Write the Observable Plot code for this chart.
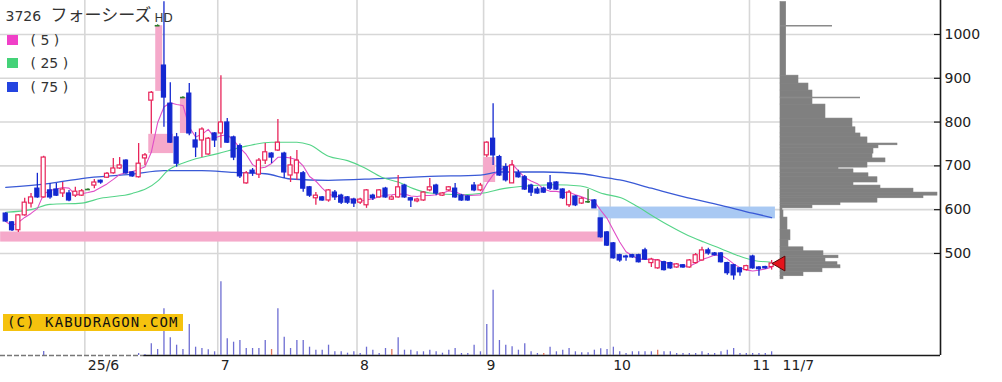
<!DOCTYPE html>
<html>
<head>
<meta charset="utf-8">
<script src="https://cdn.jsdelivr.net/npm/d3@7"></script>
<script src="https://cdn.jsdelivr.net/npm/@observablehq/plot@0.6"></script>
<style>
  html, body { margin: 0; padding: 0; background: #fff; }
  #wrap { position: relative; width: 1002px; height: 382px; overflow: hidden; }
  #wrap svg { position: absolute; left: 0; top: 0; }
  .sq { position: absolute; left: 7px; width: 11px; height: 10px; }
  #copy { position: absolute; left: 3px; top: 314px; width: 180px; height: 17px; background: #f5c20e;
          font-family: "DejaVu Sans Mono", monospace; font-size: 14px; letter-spacing: 1.1px; line-height: 17px;
          color: #111; padding-left: 4px; box-sizing: border-box; white-space: nowrap; }
</style>
</head>
<body>
<div id="wrap"></div>
<script>
// ---------- data ----------
const titleCode = "3726 ";
const titleName = "フォーシーズ";
const titleSuffix = "HD";
const maLabels = ["( 5 )", "( 25 )", "( 75 )"];

// daily candles, trading days 2025-05-14 … 2025-11-07 (index 0 … 121)
const opens = [
  591,571,553,587,614,648,628,644,646,637,
  637,632,632,646,655,666,673,683,694,712,
  685,674,717,849,1020,929,842,765,856,865,
  758,758,726,774,774,799,765,745,660,689,
  680,712,728,735,728,678,683,683,651,626,
  628,621,639,632,628,623,616,610,632,628,
  648,623,628,655,626,619,621,644,655,632,
  644,648,632,630,655,644,724,762,720,697,
  660,683,674,655,646,648,660,662,646,610,
  630,614,618,621,580,548,523,496,493,496,
  496,507,478,466,480,478,468,473,468,478,
  484,507,500,500,478,473,466,462,493,468,
  469,469];
const highs = [
  593,573,589,626,637,683,722,660,660,662,
  644,651,646,648,669,668,685,717,719,714,
  687,751,728,870,1022,1075,890,774,858,888,
  776,787,765,776,906,808,768,750,687,694,
  717,751,730,806,731,721,735,687,653,639,
  630,646,644,635,630,626,626,646,635,646,
  651,632,678,658,628,626,641,671,658,639,
  653,660,635,632,662,660,755,842,724,705,
  712,690,678,658,651,651,678,664,648,644,
  632,628,646,623,580,550,525,498,496,498,
  498,512,489,486,482,480,477,475,486,500,
  514,512,502,502,480,475,468,473,496,470,
  471,484];
const lows = [
  571,550,548,585,604,626,626,624,630,628,
  618,628,630,644,648,658,671,681,692,681,
  674,672,701,772,1020,788,751,697,856,769,
  719,719,724,742,740,751,712,671,658,676,
  671,703,705,733,671,662,667,640,628,610,
  619,617,621,612,612,605,612,603,621,626,
  626,621,626,626,605,616,619,641,632,630,
  641,626,619,619,641,641,719,701,676,663,
  660,672,644,630,635,637,644,644,623,605,
  607,612,614,605,535,516,487,480,482,489,
  478,484,468,464,460,464,466,466,466,476,
  482,496,494,478,450,439,448,460,464,448,
  464,462];
const closes = [
  573,553,587,616,628,628,719,628,632,646,
  621,641,642,646,662,662,682,694,701,683,
  676,705,724,867,1020,856,753,705,856,774,
  742,783,762,758,799,753,719,676,683,683,
  712,731,719,753,685,701,712,648,632,632,
  621,644,628,616,616,614,623,644,626,644,
  628,628,651,628,621,623,639,651,637,637,
  651,628,621,621,644,655,753,724,678,667,
  701,674,646,639,637,639,648,646,626,639,
  610,625,618,603,537,518,489,484,491,491,
  480,486,486,484,462,466,475,468,484,496,
  507,500,496,480,455,450,457,471,466,464,
  466,477];
const volumes = [
  0,0,0,0,0,0,40,0,0,0,
  0,0,0,0,0,0,0,0,0,0,
  0,20,10,117,60,467,177,103,60,310,
  83,70,57,37,737,167,133,150,70,70,
  70,150,60,467,183,70,150,150,83,53,
  53,103,37,37,23,37,20,83,53,20,
  70,60,177,53,53,37,37,53,37,23,
  53,70,20,20,103,37,310,653,150,103,
  87,53,117,37,20,20,83,37,53,70,
  37,27,27,53,67,60,83,37,20,37,
  37,37,37,53,37,37,20,20,20,20,
  37,20,20,37,53,70,20,20,20,20,
  20,37];
const volRedDays = [42, 61, 85, 103];

// moving averages 25 / 75 read at sample days
const ma25Day = [0,4,7,12,15,20,24,25.5,28.7,33.5,38,42,46,48,51,54,56.5,59.4,62,64.4,67,72,75.5,78.6,81.3,86.5,90.8,94.5,97.2,99.8,102.4,105,107.8,110.3,113,115.7,118.2,121];
const ma25Val = [594,600,612,615,626,637,665,688,710,728,745,754,754,748,722,712,697,674,663,648,638,634,638,648,653,657,654,636,627,607,584,562,541,526,511,495,484,480];
const ma75Day = [0,7,12,20,25,31,36,41,45,51,59,67,75,78,85,91,94,97,102,107,113,118,121];
const ma75Val = [651,660,671,681,689,689,685,682,670,667,671,676,679,686,686,682,675,668,649,630,610,592,582];

// price gaps ("windows"): from day, to day, low, high, direction
const gapFrom = [-0.8, 22.6, 23.7, 27.6, 75.5, 93.7];
const gapTo   = [94.4, 26.5, 24.8, 28.7, 77.4, 121.6];
const gapLo   = [526, 728, 870, 774, 662, 579];
const gapHi   = [549, 772, 1020, 856, 719, 606];
const gapDir  = ["up","up","up","up","up","down"];

// volume-by-price profile
const pfLo  = [906,888,872,856,840,808,788,774,765,751,747,740,728,717,708,696,692,683,674,662,655,648,639,632,626,616,610,603,598,582,553,530,514,505,495,489,480,473,466,457,448,441];
const pfHi  = [1074,906,888,872,856,840,808,788,774,765,751,747,740,728,717,708,696,692,683,674,662,655,648,639,632,626,616,610,603,598,582,553,530,514,505,495,489,480,473,466,457,448];
const pfVol = [5.7,18,28,32,32,45,72,75,80,87,117,98,93,92,105,87,58,73,88,97,73,100,133,157,143,97,60,32,2,3,7,10,8,23,43,58,45,57,60,42,23,3];
const pfSpikePrice = [1020, 856];
const pfSpikeVol   = [52, 80];

// axes
const yTicks = [500, 600, 700, 800, 900, 1000];
const monthStart = [13, 34, 56, 76, 96, 118];
const monthLabels = ["25/6", "7", "8", "9", "10", "11"];
const lastLabel = "11/7";

// ---------- build ----------
const N = closes.length;
const days = d3.range(N).map(i => ({i, o: opens[i], h: highs[i], l: lows[i], c: closes[i], v: volumes[i]}));
const gaps = gapFrom.map((f, k) => ({from: f, to: gapTo[k], lo: gapLo[k], hi: gapHi[k], dir: gapDir[k]}));
const profile = pfLo.map((lo, k) => ({lo, hi: pfHi[k], v: pfVol[k]}));
const spikes = pfSpikePrice.map((p, k) => ({p, v: pfSpikeVol[k]}));
const ma25 = ma25Day.map((d, k) => ({d, v: ma25Val[k]}));
const ma75 = ma75Day.map((d, k) => ({d, v: ma75Val[k]}));

const xDomain = [-0.823, 147.68];
const plotW = 940;
const pxPerIdx = plotW / (xDomain[1] - xDomain[0]);
const px = n => n / pxPerIdx;
const profileBase = 122.4;

const colUp = "#e8245a", colDown = "#1428d0", colDoji = "#2b7d2b";
const gridCol = "#d7d7d7";
const candleCol = d => d.c > d.o ? colUp : d.c < d.o ? colDown : colDoji;
const bodies = days.filter(d => d.c !== d.o);
const dojis = days.filter(d => d.c === d.o);
const font = '"DejaVu Sans", "Noto Sans CJK JP", sans-serif';
const jpFont = '"Noto Sans CJK JP", sans-serif';
const yMin = 267;
const legendDy = [40.5, 63.5, 87.5];

const main = Plot.plot({
  width: 1002, height: 382,
  marginLeft: 0, marginRight: 62, marginTop: 0, marginBottom: 27,
  x: {domain: xDomain, axis: null},
  y: {domain: [yMin, 1077.6], axis: null},
  color: {type: "identity"},
  style: {fontFamily: font, fontSize: "14px", background: "white", overflow: "visible"},
  marks: [
    Plot.ruleY(yTicks, {stroke: gridCol, strokeWidth: 1.6}),
    Plot.ruleX(monthStart, {x: d => d - 0.5, stroke: gridCol, strokeWidth: 1.6}),
    Plot.rect(gaps, {x1: "from", x2: "to", y1: "lo", y2: "hi", fill: d => d.dir === "up" ? "#f5a9ca" : "#a9c9f3"}),
    Plot.rect(profile, {x1: () => profileBase, x2: d => profileBase + px(d.v), y1: "lo", y2: "hi",
      fill: "#808080", stroke: "#808080", strokeWidth: 0.6}),
    Plot.ruleY(spikes, {y: "p", x1: () => profileBase, x2: d => profileBase + px(d.v), stroke: "#8a8a8a", strokeWidth: 1.4}),
    Plot.line(ma75, {x: "d", y: "v", stroke: "#3a5ad6", strokeWidth: 1.3, curve: "monotone-x"}),
    Plot.line(ma25, {x: "d", y: "v", stroke: "#55d488", strokeWidth: 1.1, curve: "monotone-x"}),
    Plot.lineY(days, Plot.windowY({k: 5, anchor: "end", reduce: "mean"}, {x: "i", y: "c", stroke: "#e04ec6", strokeWidth: 1.1})),
    Plot.ruleX(days, {x: "i", y1: "l", y2: "h", stroke: candleCol, strokeWidth: 1.3}),
    Plot.rect(bodies, {x1: d => d.i - 0.32, x2: d => d.i + 0.32, y1: "o", y2: "c",
      fill: d => d.c > d.o ? "white" : colDown, stroke: candleCol, strokeWidth: 1.2}),
    Plot.ruleY(dojis, {y: "c", x1: d => d.i - 0.38, x2: d => d.i + 0.38, stroke: colDoji, strokeWidth: 1.6}),
    // current price marker
    Plot.dot([closes[N - 1]], {x: () => N - 1, y: d => d, dx: 9, symbol: "triangle", rotate: -90, r: 5.5,
      fill: "#e4141c", stroke: "#5a0a0a", strokeWidth: 1}),
    // frame (bottom & right)
    Plot.ruleY([yMin], {x1: () => xDomain[0], x2: () => 21.8, stroke: "#777", strokeWidth: 1.5, strokeDasharray: "5,2"}),
    Plot.ruleY([yMin], {x1: () => 21.8, x2: () => xDomain[1], stroke: "#1a1a1a", strokeWidth: 1.6}),
    Plot.ruleX([xDomain[1]], {stroke: "#1a1a1a", strokeWidth: 1.6}),
    // y axis (right)
    Plot.ruleY(yTicks, {x1: () => xDomain[1] - px(6), x2: () => xDomain[1], stroke: "#1a1a1a", strokeWidth: 1.2}),
    Plot.text(yTicks, {x: () => xDomain[1], y: d => d, text: d => String(d), dx: 4, textAnchor: "start", fill: "#222", fontSize: 14, fontFamily: font}),
    // x axis labels
    Plot.text(monthLabels, {x: (d, k) => monthStart[k] - 0.5, y: () => yMin, dx: 3, dy: 10, textAnchor: "start", fill: "#222", fontSize: 14, fontFamily: font}),
    Plot.text([lastLabel], {x: () => N - 1, y: () => yMin, dx: 11, dy: 10, textAnchor: "start", fill: "#222", fontSize: 14, fontFamily: font}),
    // title
    Plot.text([titleCode], {frameAnchor: "top-left", lineAnchor: "middle", dx: 5, dy: 16.5, textAnchor: "start", fill: "#333", fontSize: 14, fontFamily: font}),
    Plot.text([titleName], {frameAnchor: "top-left", lineAnchor: "middle", dx: 50, dy: 15.5, textAnchor: "start", fill: "#333", fontSize: 17, fontFamily: jpFont}),
    Plot.text([titleSuffix], {frameAnchor: "top-left", lineAnchor: "middle", dx: 154, dy: 17.5, textAnchor: "start", fill: "#333", fontSize: 12, fontFamily: font}),
    // MA legend labels
    ...maLabels.map((t, k) => Plot.text([t], {frameAnchor: "top-left", lineAnchor: "middle", dx: 30, dy: legendDy[k], textAnchor: "start", fill: "#333", fontSize: 14, fontFamily: font}))
  ]
});

const volPlot = Plot.plot({
  width: 1002, height: 382,
  marginLeft: 0, marginRight: 62, marginTop: 0, marginBottom: 27,
  x: {domain: xDomain, axis: null},
  y: {domain: [0, 3550], axis: null},
  color: {type: "identity"},
  style: {background: "transparent"},
  marks: [
    Plot.ruleX(days.filter(d => d.v > 0), {x: "i", y1: 0, y2: "v",
      stroke: d => volRedDays.includes(d.i) ? "#e0745e" : "#6d6dd2", strokeWidth: 1.3})
  ]
});

const wrap = document.getElementById("wrap");
wrap.appendChild(main);
wrap.appendChild(volPlot);
const sqCols = ["#f040c8", "#44d278", "#2444e0"];
const sqTop = [35, 58, 82];
sqCols.forEach((c, k) => {
  const s = document.createElement("div");
  s.className = "sq"; s.style.top = sqTop[k] + "px"; s.style.background = c;
  wrap.appendChild(s);
});
const cp = document.createElement("div");
cp.id = "copy"; cp.textContent = "(C) KABUDRAGON.COM";
wrap.appendChild(cp);
</script>
</body>
</html>
